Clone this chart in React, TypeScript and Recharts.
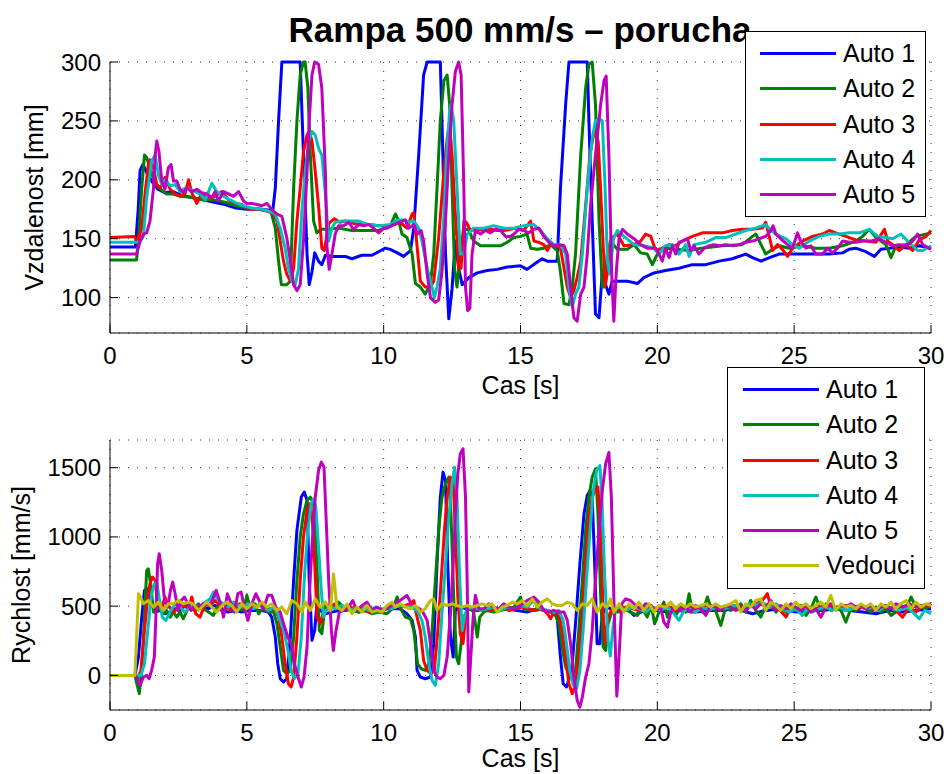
import React from 'react';
import { LineChart, Line, XAxis, YAxis, CartesianGrid, Legend } from 'recharts';

type Pt = [number, number];

const FONT = '"Liberation Sans", Arial, Helvetica, sans-serif';

const chartTitle = 'Rampa 500 mm/s \u2013 porucha';
const timeLabel = 'Cas [s]';
const distLabel = 'Vzdalenost [mm]';
const speedLabel = 'Rychlost [mm/s]';
const timeTicks = [0, 5, 10, 15, 20, 25, 30];
const distTicks = [100, 150, 200, 250, 300];
const speedTicks = [0, 500, 1000, 1500];
const autoNames = ['Auto 1', 'Auto 2', 'Auto 3', 'Auto 4', 'Auto 5'];
const leaderName = 'Vedouci';
const autoColors = ['#0000ff', '#008000', '#ff0000', '#00bfbf', '#bf00bf'];
const leaderColor = '#bfbf00';

// distance to the car ahead [mm], (time [s], value)
const dist1: Pt[] = [
  [0, 143], [0.93, 143], [1.03, 175], [1.1, 208], [1.2, 213], [1.35, 206], [1.55, 198], [1.75, 192], [2.0, 189],
  [2.3, 190], [2.6, 187], [3.0, 185], [3.4, 183], [3.8, 181], [4.2, 179], [4.6, 176], [5.0, 175], [5.5, 175],
  [5.95, 174], [6.04, 193], [6.16, 250], [6.28, 300], [6.95, 300], [7.07, 221], [7.2, 137], [7.28, 111], [7.38, 122],
  [7.48, 138], [7.62, 131], [7.74, 128], [7.87, 136], [8.1, 135], [8.6, 135], [8.84, 133], [9.2, 136], [9.57, 136],
  [9.9, 140], [10.06, 142], [10.24, 141], [10.5, 138], [10.73, 135], [10.98, 140], [11.1, 159], [11.28, 221],
  [11.46, 289], [11.59, 300], [12.07, 300], [12.13, 250], [12.26, 137], [12.38, 82], [12.5, 108], [12.62, 148],
  [12.74, 125], [12.87, 111], [13.11, 117], [13.42, 121], [13.78, 123], [14.15, 124], [14.51, 126], [15.0, 127],
  [15.24, 124], [15.6, 130], [15.79, 133], [15.98, 131], [16.34, 131], [16.46, 193], [16.65, 264], [16.77, 300],
  [17.44, 300], [17.5, 250], [17.62, 165], [17.74, 86], [17.87, 83], [17.99, 122], [18.11, 111], [18.23, 103],
  [18.35, 114], [18.48, 114], [18.9, 114], [19.27, 112], [19.51, 117], [19.88, 121], [20.3, 123], [20.79, 125],
  [21.28, 128], [21.77, 128], [22.26, 131], [22.74, 133], [23.23, 137], [23.48, 134], [23.79, 131], [24.1, 134],
  [24.45, 137], [24.82, 137], [25.3, 137], [25.79, 137], [26.28, 137], [26.77, 138], [27.0, 141], [27.25, 142],
  [27.62, 139], [27.93, 135], [28.17, 141], [28.48, 142], [28.84, 143], [29.21, 142], [29.57, 144], [30, 142],
];
const dist2: Pt[] = [
  [0, 132], [0.97, 132], [1.04, 148], [1.16, 193], [1.26, 221], [1.34, 219], [1.46, 210], [1.6, 200], [1.8, 193],
  [2.07, 188], [2.3, 188], [2.6, 186], [3.0, 185], [3.4, 183], [3.8, 183], [4.2, 181], [4.6, 178], [5.0, 176],
  [5.5, 175], [5.88, 173], [6.04, 159], [6.16, 131], [6.26, 111], [6.46, 111], [6.59, 114], [6.71, 193], [6.83, 250],
  [6.95, 289], [7.07, 300], [7.13, 300], [7.23, 278], [7.32, 221], [7.44, 165], [7.56, 155], [7.7, 158], [8.0, 158],
  [8.35, 159], [8.84, 157], [9.33, 157], [9.82, 157], [10.24, 161], [10.43, 171], [10.55, 165], [10.67, 154],
  [10.85, 151], [11.04, 137], [11.16, 112], [11.34, 109], [11.52, 103], [11.71, 112], [11.83, 137], [11.95, 193],
  [12.07, 250], [12.2, 284], [12.32, 289], [12.41, 264], [12.5, 193], [12.59, 125], [12.68, 109], [12.8, 137],
  [12.93, 159], [13.11, 157], [13.29, 148], [13.54, 144], [13.9, 144], [14.27, 144], [14.51, 147], [14.76, 151],
  [15.0, 152], [15.24, 154], [15.37, 142], [15.61, 141], [15.85, 142], [16.1, 145], [16.34, 140], [16.46, 122],
  [16.59, 95], [16.77, 94], [16.89, 109], [17.01, 137], [17.2, 221], [17.38, 278], [17.5, 298], [17.62, 300],
  [17.74, 264], [17.87, 165], [17.99, 109], [18.07, 109], [18.17, 137], [18.29, 148], [18.54, 141], [18.9, 141],
  [19.15, 145], [19.39, 138], [19.63, 137], [19.82, 128], [20.0, 137], [20.3, 142], [20.7, 141], [21.16, 140],
  [21.6, 142], [22.0, 143], [22.38, 144], [23.1, 145], [23.48, 152], [23.6, 154], [23.79, 145], [23.96, 137],
  [24.21, 141], [24.45, 144], [24.82, 142], [25.3, 144], [25.79, 142], [26.28, 142], [26.77, 144], [27.25, 148],
  [27.5, 152], [27.74, 158], [27.99, 151], [28.35, 145], [28.54, 134], [28.72, 144], [29.09, 145], [29.45, 152],
  [30, 155],
];
const dist3: Pt[] = [
  [0, 151], [0.9, 152], [0.97, 149], [1.05, 151], [1.16, 159], [1.28, 188], [1.4, 213], [1.46, 217], [1.59, 210],
  [1.71, 196], [1.83, 193], [2.01, 202], [2.2, 192], [2.38, 188], [2.56, 186], [2.74, 188], [2.87, 200], [2.99, 189],
  [3.17, 180], [3.35, 188], [3.6, 185], [3.84, 186], [4.09, 190], [4.33, 183], [4.57, 180], [4.82, 179], [5.06, 175],
  [5.43, 175], [5.79, 173], [5.98, 171], [6.1, 165], [6.22, 148], [6.34, 131], [6.46, 120], [6.59, 114], [6.71, 125],
  [6.83, 165], [6.95, 193], [7.07, 224], [7.2, 238], [7.28, 241], [7.38, 233], [7.5, 207], [7.62, 178], [7.74, 142],
  [7.83, 140], [8.0, 163], [8.2, 167], [8.4, 164], [8.6, 165], [8.9, 163], [9.2, 162], [9.5, 162], [9.8, 161],
  [10.24, 161], [10.6, 164], [10.85, 159], [11.04, 171], [11.1, 172], [11.22, 144], [11.34, 114], [11.52, 109],
  [11.71, 109], [11.83, 114], [12.01, 151], [12.2, 207], [12.32, 235], [12.4, 248], [12.5, 221], [12.62, 171],
  [12.74, 125], [12.83, 125], [12.93, 165], [13.02, 164], [13.17, 157], [13.42, 158], [13.66, 157], [13.9, 158],
  [14.15, 157], [14.39, 157], [14.63, 158], [14.88, 159], [15.12, 157], [15.37, 165], [15.49, 148], [15.67, 147],
  [15.85, 145], [15.98, 140], [16.1, 145], [16.28, 144], [16.46, 142], [16.59, 125], [16.71, 109], [16.83, 100],
  [16.95, 106], [17.07, 117], [17.2, 131], [17.38, 178], [17.54, 222], [17.65, 236], [17.75, 241], [17.84, 232],
  [17.93, 190], [18.02, 145], [18.1, 110], [18.2, 125], [18.32, 150], [18.41, 152], [18.54, 154], [18.78, 144],
  [19.15, 145], [19.39, 148], [19.57, 154], [19.76, 152], [19.94, 140], [20.18, 142], [20.43, 145], [20.67, 144],
  [20.91, 148], [21.28, 152], [21.65, 155], [22.01, 155], [22.38, 155], [22.74, 157], [23.1, 158], [23.48, 158],
  [23.84, 159], [23.96, 164], [24.09, 152], [24.21, 140], [24.39, 145], [24.57, 141], [24.76, 135], [24.94, 142],
  [25.3, 148], [25.67, 152], [26.04, 154], [26.28, 157], [26.52, 155], [26.89, 152], [27.25, 149], [27.62, 148],
  [27.99, 147], [28.3, 158], [28.42, 148], [28.6, 145], [28.84, 140], [29.09, 145], [29.33, 140], [29.57, 149],
  [29.82, 152], [30, 157],
];
const dist4: Pt[] = [
  [0, 147], [1.08, 147], [1.22, 152], [1.34, 185], [1.52, 216], [1.65, 221], [1.77, 204], [1.89, 196], [2.01, 200],
  [2.2, 195], [2.38, 196], [2.56, 190], [2.74, 193], [2.93, 192], [3.11, 190], [3.29, 188], [3.48, 183], [3.72, 197],
  [3.9, 190], [4.15, 186], [4.39, 183], [4.63, 180], [4.88, 178], [5.18, 176], [5.55, 175], [5.85, 173], [6.04, 171],
  [6.22, 159], [6.4, 142], [6.52, 125], [6.65, 114], [6.77, 111], [6.89, 125], [7.01, 173], [7.13, 207], [7.26, 233],
  [7.38, 241], [7.5, 238], [7.62, 227], [7.74, 221], [7.87, 188], [7.99, 148], [8.11, 159], [8.23, 164], [8.48, 165],
  [8.84, 165], [9.09, 165], [9.45, 162], [9.82, 161], [10.24, 162], [10.49, 166], [10.73, 166], [10.91, 164],
  [11.1, 165], [11.28, 159], [11.4, 148], [11.59, 125], [11.77, 109], [11.85, 100], [11.95, 109], [12.07, 125],
  [12.2, 170], [12.3, 220], [12.4, 255], [12.46, 264], [12.56, 250], [12.68, 193], [12.8, 137], [12.93, 137],
  [13.05, 154], [13.29, 159], [13.66, 159], [14.02, 161], [14.39, 159], [14.76, 159], [15.12, 161], [15.49, 162],
  [15.73, 157], [15.98, 150], [16.22, 145], [16.46, 145], [16.65, 137], [16.77, 109], [16.89, 92], [17.01, 103],
  [17.13, 109], [17.26, 137], [17.44, 193], [17.62, 235], [17.74, 250], [17.87, 252], [17.99, 250], [18.08, 200],
  [18.18, 130], [18.26, 120], [18.4, 150], [18.54, 157], [18.78, 152], [19.15, 145], [19.51, 144], [19.88, 142],
  [20.06, 137], [20.3, 144], [20.55, 145], [20.79, 137], [21.04, 145], [21.16, 135], [21.34, 145], [21.77, 147],
  [22.13, 151], [22.5, 151], [22.87, 154], [23.23, 157], [23.6, 159], [23.96, 162], [24.15, 157], [24.33, 154],
  [24.7, 150], [24.94, 145], [25.18, 142], [25.55, 148], [25.91, 152], [26.28, 154], [26.65, 154], [27.01, 155],
  [27.38, 155], [27.74, 158], [28.05, 152], [28.35, 151], [28.6, 150], [28.9, 154], [29.15, 148], [29.33, 144],
  [29.51, 140], [29.7, 140], [30, 144],
];
const dist5: Pt[] = [
  [0, 137], [0.97, 137], [1.1, 148], [1.22, 154], [1.34, 155], [1.46, 165], [1.59, 193], [1.65, 221], [1.71, 233],
  [1.79, 224], [1.89, 199], [2.01, 192], [2.13, 210], [2.23, 213], [2.32, 199], [2.44, 199], [2.56, 192], [2.68, 189],
  [2.8, 193], [2.99, 190], [3.17, 192], [3.35, 189], [3.54, 188], [3.72, 185], [3.84, 190], [3.96, 182], [4.15, 190],
  [4.33, 188], [4.51, 186], [4.7, 190], [4.88, 182], [5.0, 180], [5.18, 180], [5.37, 179], [5.55, 178], [5.73, 180],
  [5.91, 175], [6.1, 171], [6.28, 169], [6.46, 151], [6.59, 131], [6.71, 111], [6.83, 106], [6.95, 111], [7.07, 148],
  [7.2, 207], [7.28, 250], [7.38, 289], [7.48, 300], [7.62, 298], [7.74, 278], [7.87, 207], [7.93, 142], [8.01, 124],
  [8.11, 137], [8.23, 154], [8.35, 161], [8.54, 161], [8.72, 164], [8.9, 158], [9.09, 162], [9.27, 161], [9.45, 162],
  [9.63, 159], [9.82, 155], [10.0, 159], [10.12, 159], [10.37, 162], [10.6, 164], [10.79, 166], [10.91, 159],
  [11.1, 162], [11.24, 154], [11.37, 157], [11.46, 148], [11.59, 120], [11.71, 100], [11.89, 96], [12.01, 98],
  [12.13, 122], [12.26, 165], [12.38, 221], [12.5, 264], [12.62, 292], [12.74, 300], [12.83, 289], [12.93, 193],
  [12.99, 109], [13.07, 89], [13.15, 91], [13.23, 137], [13.35, 157], [13.54, 154], [13.72, 157], [13.9, 155],
  [14.09, 158], [14.27, 157], [14.45, 152], [14.63, 152], [14.76, 154], [14.94, 158], [15.12, 157], [15.3, 155],
  [15.49, 158], [15.67, 159], [15.85, 152], [16.04, 147], [16.22, 144], [16.4, 145], [16.59, 144], [16.71, 137],
  [16.83, 109], [16.95, 83], [17.07, 80], [17.2, 103], [17.32, 109], [17.44, 137], [17.56, 178], [17.68, 207],
  [17.8, 235], [17.93, 264], [18.05, 284], [18.13, 288], [18.23, 221], [18.33, 122], [18.41, 80], [18.5, 122],
  [18.6, 150], [18.73, 158], [18.9, 154], [19.15, 150], [19.39, 145], [19.63, 142], [19.94, 142], [20.06, 137],
  [20.18, 131], [20.3, 142], [20.43, 134], [20.55, 144], [20.67, 137], [20.79, 147], [20.91, 148], [21.1, 150],
  [21.22, 140], [21.34, 144], [21.52, 137], [21.71, 142], [21.89, 144], [22.07, 145], [22.26, 144], [22.5, 145],
  [22.74, 144], [22.99, 145], [23.23, 147], [23.48, 148], [23.72, 150], [23.96, 152], [24.15, 157], [24.23, 161],
  [24.33, 154], [24.51, 150], [24.76, 145], [24.94, 142], [25.12, 155], [25.24, 148], [25.43, 142], [25.61, 144],
  [25.79, 137], [26.04, 137], [26.22, 142], [26.4, 138], [26.59, 142], [26.77, 148], [27.01, 147], [27.25, 147],
  [27.5, 148], [27.8, 148], [28.11, 150], [28.35, 147], [28.6, 144], [28.84, 145], [29.09, 144], [29.33, 148],
  [29.51, 154], [29.7, 145], [30, 141],
];

// speed [mm/s], (time [s], value)
const speed1: Pt[] = [
  [0, 0], [0.91, 0], [1.04, 132], [1.16, 421], [1.26, 614], [1.34, 626], [1.46, 541], [1.65, 457], [1.83, 469],
  [2.01, 445], [2.2, 457], [2.38, 481], [2.56, 469], [2.74, 505], [2.93, 481], [3.11, 469], [3.35, 493], [3.6, 481],
  [3.84, 505], [4.09, 469], [4.33, 457], [4.57, 469], [4.82, 457], [5.06, 469], [5.3, 469], [5.55, 469], [5.79, 457],
  [5.91, 421], [6.04, 277], [6.13, 84], [6.22, -24], [6.34, -48], [6.46, -24], [6.59, 277], [6.71, 686], [6.83, 1047],
  [6.99, 1288], [7.1, 1324], [7.2, 1264], [7.28, 686], [7.38, 253], [7.48, 325], [7.56, 517], [7.68, 469], [7.87, 445],
  [8.11, 457], [8.35, 469], [8.6, 469], [8.84, 481], [9.09, 457], [9.33, 469], [9.57, 457], [9.82, 469], [10.06, 481],
  [10.3, 481], [10.6, 481], [10.85, 445], [11.04, 397], [11.16, 277], [11.22, 36], [11.34, -12], [11.52, -24],
  [11.71, -12], [11.83, 229], [11.95, 806], [12.07, 1288], [12.17, 1468], [12.26, 1408], [12.34, 806], [12.44, 277],
  [12.54, 132], [12.62, 469], [12.74, 493], [13.05, 481], [13.42, 469], [13.78, 469], [14.15, 469], [14.51, 481],
  [14.88, 469], [15.24, 457], [15.61, 481], [15.98, 469], [16.22, 457], [16.34, 421], [16.46, 132], [16.56, -60],
  [16.68, -84], [16.8, -12], [16.89, 84], [17.01, 373], [17.17, 806], [17.32, 1167], [17.44, 1300], [17.54, 1336],
  [17.62, 1288], [17.71, 806], [17.8, 229], [17.9, 229], [17.99, 445], [18.17, 493], [18.41, 469], [18.66, 457],
  [18.9, 481], [19.15, 433], [19.39, 457], [19.63, 469], [19.94, 469], [20.43, 457], [20.91, 469], [21.4, 457],
  [21.89, 469], [22.38, 469], [22.87, 481], [23.48, 445], [23.96, 469], [24.57, 481], [25.06, 457], [25.55, 469],
  [26.04, 469], [26.52, 481], [27.01, 469], [27.5, 457], [27.99, 445], [28.48, 469], [28.96, 457], [29.45, 469],
  [30, 481],
];
const speed2: Pt[] = [
  [0, 0], [0.91, 0], [0.98, -60], [1.07, -132], [1.16, 36], [1.26, 421], [1.34, 758], [1.4, 770], [1.5, 638],
  [1.59, 457], [1.71, 469], [1.83, 505], [1.95, 445], [2.07, 469], [2.2, 421], [2.32, 457], [2.44, 421], [2.56, 457],
  [2.68, 409], [2.87, 493], [3.05, 481], [3.23, 517], [3.41, 481], [3.6, 457], [3.78, 433], [3.96, 517], [4.15, 469],
  [4.33, 493], [4.51, 505], [4.7, 481], [4.88, 469], [5.0, 578], [5.12, 493], [5.3, 517], [5.43, 445], [5.61, 493],
  [5.79, 457], [5.98, 457], [6.1, 373], [6.22, 205], [6.34, 36], [6.46, 12], [6.59, 36], [6.71, 277], [6.83, 686],
  [6.95, 999], [7.07, 1167], [7.2, 1264], [7.32, 1288], [7.44, 1239], [7.56, 806], [7.65, 325], [7.74, 301],
  [7.87, 517], [8.11, 493], [8.35, 529], [8.6, 481], [8.84, 469], [9.09, 457], [9.33, 469], [9.57, 445], [9.82, 457],
  [10.12, 445], [10.37, 493], [10.49, 566], [10.6, 493], [10.79, 421], [10.98, 409], [11.1, 325], [11.24, 84],
  [11.37, 48], [11.52, 36], [11.65, 84], [11.77, 325], [11.89, 686], [12.01, 1047], [12.13, 1288], [12.26, 1384],
  [12.38, 1432], [12.46, 1167], [12.56, 566], [12.66, 132], [12.74, 84], [12.83, 229], [12.93, 421], [13.11, 493],
  [13.29, 457], [13.42, 277], [13.51, 421], [13.66, 457], [13.78, 469], [14.02, 457], [14.27, 469], [14.51, 481],
  [14.76, 493], [15.0, 566], [15.12, 481], [15.37, 469], [15.61, 481], [15.85, 469], [16.1, 457], [16.28, 433],
  [16.4, 373], [16.52, 205], [16.65, 60], [16.77, 12], [16.89, -12], [17.01, 36], [17.13, 325], [17.26, 686],
  [17.38, 1047], [17.5, 1288], [17.62, 1432], [17.74, 1492], [17.83, 1167], [17.93, 566], [18.02, 205], [18.11, 180],
  [18.2, 373], [18.35, 469], [18.54, 457], [18.78, 481], [19.02, 457], [19.27, 433], [19.45, 481], [19.63, 421],
  [19.78, 505], [19.9, 373], [20.06, 457], [20.24, 529], [20.37, 421], [20.49, 493], [20.67, 433], [20.85, 493],
  [21.04, 457], [21.16, 590], [21.28, 457], [21.46, 493], [21.65, 457], [21.83, 566], [21.95, 493], [22.13, 469],
  [22.32, 361], [22.5, 493], [22.68, 469], [22.87, 493], [23.05, 517], [23.23, 457], [23.41, 541], [23.6, 469],
  [23.78, 421], [23.96, 505], [24.15, 517], [24.33, 457], [24.51, 493], [24.7, 457], [24.88, 493], [25.06, 469],
  [25.24, 505], [25.43, 433], [25.61, 481], [25.79, 566], [25.98, 469], [26.16, 517], [26.34, 469], [26.52, 493],
  [26.71, 469], [26.89, 385], [27.07, 481], [27.26, 469], [27.44, 493], [27.62, 481], [27.8, 457], [27.99, 493],
  [28.17, 457], [28.35, 481], [28.54, 433], [28.72, 457], [28.9, 505], [29.09, 481], [29.27, 566], [29.45, 493],
  [29.63, 505], [29.82, 481], [30, 517],
];
const speed3: Pt[] = [
  [0, 0], [0.95, 0], [1.04, -12], [1.13, 36], [1.26, 325], [1.38, 566], [1.46, 662], [1.55, 710], [1.65, 686],
  [1.74, 517], [1.87, 469], [2.01, 566], [2.13, 505], [2.32, 457], [2.5, 493], [2.68, 505], [2.87, 481], [2.99, 566],
  [3.13, 445], [3.29, 421], [3.48, 517], [3.66, 505], [3.84, 541], [4.02, 505], [4.21, 517], [4.39, 469], [4.57, 505],
  [4.76, 517], [4.94, 481], [5.12, 505], [5.3, 493], [5.49, 517], [5.67, 469], [5.85, 481], [6.04, 469], [6.16, 421],
  [6.28, 277], [6.4, 84], [6.52, -60], [6.62, -84], [6.71, -12], [6.83, 277], [6.95, 686], [7.07, 999], [7.2, 1191],
  [7.29, 1239], [7.38, 1167], [7.48, 806], [7.57, 421], [7.68, 373], [7.8, 457], [7.99, 493], [8.23, 517], [8.48, 481],
  [8.72, 505], [8.96, 469], [9.21, 481], [9.45, 457], [9.7, 481], [9.94, 469], [10.24, 505], [10.6, 493], [10.98, 517],
  [11.1, 541], [11.22, 421], [11.34, 325], [11.46, 108], [11.59, 36], [11.73, 12], [11.85, 36], [11.98, 325],
  [12.1, 686], [12.22, 1047], [12.32, 1288], [12.44, 1432], [12.54, 1408], [12.62, 1047], [12.71, 566], [12.8, 301],
  [12.9, 229], [12.99, 421], [13.11, 493], [13.35, 481], [13.6, 469], [13.84, 481], [14.09, 469], [14.33, 493],
  [14.57, 469], [14.82, 481], [15.06, 493], [15.3, 481], [15.55, 469], [15.79, 481], [15.98, 445], [16.1, 409],
  [16.22, 457], [16.4, 445], [16.52, 325], [16.65, 132], [16.77, -60], [16.89, -132], [17.01, -60], [17.13, 132],
  [17.26, 445], [17.38, 806], [17.5, 1143], [17.62, 1288], [17.74, 1348], [17.83, 1360], [17.93, 1047], [18.02, 445],
  [18.11, 229], [18.2, 421], [18.35, 481], [18.6, 469], [18.84, 493], [19.09, 481], [19.33, 469], [19.57, 493],
  [19.82, 481], [20.12, 493], [20.3, 505], [20.67, 469], [21.04, 493], [21.4, 481], [21.77, 505], [22.13, 481],
  [22.5, 493], [22.87, 505], [23.23, 493], [23.6, 517], [23.84, 541], [24.02, 590], [24.15, 493], [24.33, 505],
  [24.7, 421], [24.88, 493], [25.06, 469], [25.43, 493], [25.79, 481], [26.16, 505], [26.52, 493], [26.89, 505],
  [27.26, 481], [27.62, 493], [27.99, 469], [28.35, 493], [28.72, 469], [28.96, 421], [29.21, 493], [29.45, 457],
  [29.7, 505], [30, 493],
];
const speed4: Pt[] = [
  [0, 0], [1.0, 0], [1.13, 0], [1.26, 84], [1.38, 325], [1.5, 566], [1.62, 662], [1.71, 674], [1.79, 566], [1.91, 421],
  [2.04, 397], [2.2, 457], [2.38, 517], [2.56, 493], [2.74, 457], [2.93, 493], [3.11, 505], [3.29, 493], [3.48, 529],
  [3.66, 553], [3.78, 602], [3.96, 541], [4.15, 517], [4.33, 493], [4.51, 529], [4.7, 505], [4.88, 493], [5.06, 517],
  [5.24, 481], [5.43, 505], [5.61, 493], [5.79, 469], [5.98, 493], [6.13, 445], [6.26, 373], [6.38, 301], [6.5, 180],
  [6.62, 36], [6.74, -24], [6.87, 12], [6.99, 277], [7.11, 734], [7.23, 1047], [7.35, 1239], [7.44, 1276], [7.52, 1215],
  [7.62, 927], [7.72, 614], [7.8, 421], [7.89, 469], [8.05, 493], [8.23, 481], [8.48, 505], [8.72, 481], [8.96, 469],
  [9.21, 493], [9.45, 469], [9.7, 493], [9.94, 481], [10.24, 481], [10.6, 505], [10.98, 493], [11.22, 469], [11.4, 397],
  [11.52, 277], [11.65, 84], [11.77, -36], [11.89, -72], [12.01, 84], [12.13, 445], [12.26, 806], [12.38, 1143],
  [12.5, 1384], [12.59, 1504], [12.68, 1288], [12.78, 686], [12.87, 325], [12.95, 421], [13.05, 481], [13.29, 493],
  [13.54, 469], [13.78, 481], [14.02, 493], [14.27, 469], [14.51, 493], [14.76, 481], [15.0, 505], [15.24, 493],
  [15.49, 541], [15.73, 481], [15.98, 469], [16.22, 457], [16.4, 469], [16.56, 397], [16.68, 229], [16.8, 36],
  [16.93, -72], [17.05, -96], [17.17, 36], [17.29, 325], [17.41, 686], [17.54, 1047], [17.66, 1336], [17.78, 1480],
  [17.9, 1516], [17.97, 1300], [18.08, 700], [18.2, 250], [18.28, 140], [18.38, 350], [18.48, 480], [18.6, 493],
  [18.84, 469], [19.09, 493], [19.33, 481], [19.57, 457], [19.82, 493], [20.12, 469], [20.37, 493], [20.61, 445],
  [20.79, 397], [20.98, 469], [21.16, 481], [21.4, 457], [21.65, 493], [21.89, 469], [22.13, 493], [22.38, 481],
  [22.62, 493], [22.87, 505], [23.11, 481], [23.35, 517], [23.6, 505], [23.84, 529], [24.09, 493], [24.33, 517],
  [24.57, 481], [24.82, 457], [25.06, 481], [25.3, 433], [25.49, 481], [25.67, 457], [25.91, 481], [26.16, 493],
  [26.4, 469], [26.65, 493], [26.89, 469], [27.13, 481], [27.38, 505], [27.62, 481], [27.87, 493], [28.11, 469],
  [28.35, 505], [28.6, 481], [28.84, 469], [29.09, 493], [29.33, 457], [29.57, 409], [29.76, 469], [30, 445],
];
const speed5: Pt[] = [
  [0, 0], [0.91, 0], [1.01, -24], [1.1, -72], [1.22, -12], [1.34, 0], [1.43, -24], [1.52, 36], [1.62, 132], [1.68, 445],
  [1.74, 806], [1.8, 878], [1.89, 758], [1.99, 541], [2.11, 493], [2.21, 614], [2.29, 674], [2.38, 590], [2.48, 469],
  [2.6, 541], [2.72, 566], [2.84, 517], [2.96, 469], [3.09, 505], [3.23, 493], [3.41, 517], [3.6, 505], [3.74, 541],
  [3.88, 614], [4.02, 529], [4.15, 421], [4.29, 590], [4.43, 517], [4.55, 457], [4.67, 590], [4.79, 602], [4.91, 493],
  [5.04, 397], [5.18, 517], [5.33, 590], [5.45, 541], [5.61, 481], [5.77, 578], [5.91, 578], [6.06, 493], [6.22, 457],
  [6.38, 349], [6.5, 277], [6.62, 229], [6.74, 84], [6.87, -12], [6.99, -84], [7.09, -12], [7.2, 205], [7.28, 566],
  [7.38, 927], [7.5, 1288], [7.62, 1480], [7.72, 1540], [7.82, 1504], [7.89, 1167], [7.99, 686], [8.09, 325],
  [8.16, 180], [8.26, 325], [8.38, 457], [8.54, 469], [8.72, 493], [8.87, 541], [9.02, 469], [9.21, 505], [9.39, 529],
  [9.57, 469], [9.76, 493], [9.94, 469], [10.12, 481], [10.37, 517], [10.6, 541], [10.85, 578], [11.04, 505],
  [11.22, 493], [11.4, 469], [11.59, 397], [11.71, 229], [11.83, 36], [11.95, -12], [12.07, -24], [12.2, 0],
  [12.32, 132], [12.44, 445], [12.54, 806], [12.62, 1167], [12.71, 1456], [12.8, 1600], [12.9, 1637], [12.99, 1288],
  [13.05, 686], [13.11, -120], [13.17, 84], [13.27, 421], [13.35, 578], [13.48, 481], [13.66, 481], [13.84, 517],
  [14.02, 493], [14.21, 481], [14.39, 517], [14.57, 493], [14.76, 481], [15.0, 505], [15.24, 541], [15.49, 566],
  [15.67, 529], [15.85, 469], [16.04, 457], [16.22, 469], [16.4, 457], [16.59, 457], [16.71, 397], [16.83, 229],
  [16.95, -12], [17.07, -180], [17.17, -229], [17.26, -156], [17.38, -12], [17.5, 84], [17.62, 325], [17.74, 686],
  [17.87, 1047], [17.99, 1336], [18.11, 1528], [18.23, 1610], [18.32, 1288], [18.41, 566], [18.52, -150],
  [18.62, 205], [18.7, 517], [18.84, 553], [19.02, 541], [19.21, 505], [19.39, 481], [19.57, 517], [19.76, 505],
  [19.94, 469], [20.12, 493], [20.24, 385], [20.37, 349], [20.49, 457], [20.67, 493], [20.85, 469], [21.04, 493],
  [21.22, 457], [21.4, 505], [21.59, 481], [21.77, 433], [21.95, 505], [22.13, 493], [22.32, 469], [22.5, 505],
  [22.68, 493], [22.87, 469], [23.05, 493], [23.23, 469], [23.41, 505], [23.6, 481], [23.78, 517], [23.96, 493],
  [24.15, 541], [24.33, 469], [24.51, 505], [24.7, 481], [24.88, 517], [25.06, 493], [25.24, 469], [25.43, 505],
  [25.61, 457], [25.79, 481], [25.98, 421], [26.16, 493], [26.34, 517], [26.52, 481], [26.71, 505], [26.89, 493],
  [27.07, 517], [27.26, 493], [27.44, 505], [27.62, 481], [27.8, 505], [27.99, 469], [28.17, 493], [28.35, 505],
  [28.54, 481], [28.72, 517], [28.96, 493], [29.21, 517], [29.45, 493], [29.7, 505], [30, 517],
];
const leaderSpeed: Pt[] = [
  [0, 0], [0.91, 0], [1.04, 590], [1.12, 566], [1.22, 517], [1.4, 541], [1.59, 493], [1.77, 529], [1.95, 469],
  [2.13, 517], [2.32, 517], [2.5, 541], [2.68, 517], [2.87, 529], [3.05, 517], [3.23, 469], [3.41, 505], [3.54, 529],
  [3.72, 493], [3.9, 457], [4.09, 505], [4.27, 529], [4.45, 505], [4.63, 457], [4.82, 517], [5.0, 481], [5.18, 517],
  [5.37, 493], [5.55, 529], [5.73, 493], [5.91, 517], [6.1, 469], [6.28, 493], [6.46, 445], [6.65, 541], [6.83, 517],
  [7.01, 457], [7.13, 529], [7.32, 469], [7.5, 553], [7.68, 493], [7.87, 529], [8.05, 469], [8.17, 734], [8.29, 493],
  [8.48, 469], [8.66, 517], [8.84, 445], [9.02, 493], [9.21, 457], [9.39, 505], [9.57, 457], [9.76, 469], [9.94, 457],
  [10.12, 505], [10.3, 529], [10.43, 493], [10.6, 517], [10.79, 493], [10.98, 481], [11.16, 505], [11.34, 457],
  [11.52, 481], [11.71, 541], [11.83, 553], [11.95, 469], [12.13, 517], [12.32, 505], [12.5, 517], [12.68, 505],
  [12.87, 493], [13.05, 505], [13.23, 493], [13.42, 505], [13.6, 517], [13.78, 505], [13.96, 517], [14.15, 457],
  [14.33, 493], [14.51, 505], [14.7, 529], [14.88, 517], [15.06, 541], [15.24, 505], [15.43, 553], [15.61, 493],
  [15.79, 529], [15.98, 553], [16.16, 517], [16.34, 505], [16.52, 505], [16.71, 529], [16.89, 517], [17.07, 469],
  [17.26, 517], [17.44, 505], [17.62, 553], [17.8, 457], [17.99, 517], [18.17, 493], [18.29, 553], [18.41, 457],
  [18.6, 517], [18.78, 457], [18.96, 517], [19.15, 481], [19.33, 529], [19.51, 469], [19.7, 517], [19.88, 457],
  [20.06, 505], [20.3, 493], [20.49, 529], [20.67, 481], [20.85, 517], [21.04, 493], [21.22, 517], [21.4, 493],
  [21.59, 505], [21.77, 517], [21.95, 493], [22.13, 517], [22.32, 493], [22.5, 505], [22.68, 517], [22.87, 541],
  [23.05, 457], [23.23, 517], [23.41, 493], [23.6, 541], [23.78, 553], [23.96, 469], [24.15, 529], [24.33, 505],
  [24.51, 469], [24.7, 517], [24.88, 481], [25.06, 529], [25.24, 493], [25.43, 517], [25.61, 481], [25.79, 505],
  [25.98, 529], [26.16, 493], [26.34, 578], [26.52, 469], [26.71, 517], [26.89, 493], [27.07, 505], [27.26, 481],
  [27.44, 517], [27.62, 493], [27.8, 517], [27.99, 469], [28.17, 517], [28.35, 493], [28.54, 529], [28.72, 481],
  [28.9, 517], [29.09, 541], [29.27, 481], [29.45, 529], [29.63, 493], [29.82, 517], [30, 505],
];

const toRows = (pts: Pt[]) => pts.map(([t, v]) => ({ t, v }));

const distSeries = [dist1, dist2, dist3, dist4, dist5].map((pts, i) => ({
  name: autoNames[i], color: autoColors[i], data: toRows(pts),
}));
const speedSeries = [
  ...[speed1, speed2, speed3, speed4, speed5].map((pts, i) => ({
    name: autoNames[i], color: autoColors[i], data: toRows(pts),
  })),
  { name: leaderName, color: leaderColor, data: toRows(leaderSpeed) },
];

const tickStyle = { fill: '#000', fontSize: 24, fontFamily: FONT };

const BoxLegend = ({ items, width, sampleLeft, textLeft }: any) => (
  <div style={{
    width, background: '#fff', border: '1px solid #000', boxSizing: 'border-box',
    padding: '4px 0', fontFamily: FONT, fontSize: 25, color: '#000',
  }}>
    {items.map((it: any) => (
      <div key={it.name} style={{ position: 'relative', height: 35.3 }}>
        <div style={{ position: 'absolute', left: sampleLeft, top: 16, width: 76, height: 3, background: it.color }} />
        <span style={{ position: 'absolute', left: textLeft, top: 0, lineHeight: '35.3px', whiteSpace: 'nowrap' }}>
          {it.name}
        </span>
      </div>
    ))}
  </div>
);

const xTitle = (dy: number) => (props: any) => {
  const vb = props.viewBox;
  return (
    <text x={vb.x + vb.width / 2} y={vb.y + dy} textAnchor="middle" fontSize={25} fontFamily={FONT} fill="#000">
      {timeLabel}
    </text>
  );
};

const yTitle = (text: string, baseX: number) => (props: any) => {
  const vb = props.viewBox;
  const cy = vb.y + vb.height / 2;
  return (
    <text x={baseX} y={cy} transform={`rotate(-90 ${baseX} ${cy})`} textAnchor="middle" fontSize={25}
      fontFamily={FONT} fill="#000">
      {text}
    </text>
  );
};

const Panel = ({ series, height, margin, domain, yTicks, yLabel, yLabelX, xLabelDy, legend }: any) => (
  <LineChart width={947} height={height} margin={margin}>
    <CartesianGrid stroke="#333" strokeDasharray="1 8" />
    <XAxis dataKey="t" type="number" domain={[0, 30]} ticks={timeTicks} interval={0} height={40}
      tickSize={-8} tickMargin={22} tick={tickStyle} stroke="#000" label={xTitle(xLabelDy)} />
    <XAxis xAxisId="top" orientation="top" dataKey="t" type="number" domain={[0, 30]} ticks={timeTicks}
      interval={0} height={0} tickSize={-8} tickFormatter={() => ''} stroke="#000" />
    <YAxis type="number" domain={domain} ticks={yTicks} interval={0} width={110} tickSize={-8} tickMargin={17}
      tick={tickStyle} stroke="#000" label={yTitle(yLabel, yLabelX)} />
    <YAxis yAxisId="right" orientation="right" type="number" domain={domain} ticks={yTicks} interval={0} width={0}
      tickSize={-8} tickFormatter={() => ''} stroke="#000" />
    {series.map((s: any) => (
      <Line key={s.name} data={s.data} dataKey="v" name={s.name} type="linear" stroke={s.color} strokeWidth={3}
        strokeLinejoin="round" dot={false} activeDot={false} isAnimationActive={false} />
    ))}
    <Legend layout="horizontal" align="center" verticalAlign="middle"
      wrapperStyle={{ left: legend.left, top: legend.top, width: legend.width }}
      content={() => (
        <BoxLegend items={series} width={legend.width} sampleLeft={legend.sampleLeft} textLeft={legend.textLeft} />
      )} />
  </LineChart>
);

export default function App() {
  return (
    <div style={{ position: 'absolute', left: 0, top: 0, width: 947, height: 774, background: '#fff', overflow: 'hidden' }}>
      <svg width={947} height={60} style={{ position: 'absolute', left: 0, top: 0 }}>
        <text x={520} y={42} textAnchor="middle" fontSize={35} fontWeight="bold" fontFamily={FONT} fill="#000">
          {chartTitle}
        </text>
      </svg>
      <div style={{ position: 'absolute', left: 0, top: 0 }}>
        <Panel series={distSeries} height={410} margin={{ top: 62, right: 16, bottom: 37, left: 0 }}
          domain={[70, 300]} yTicks={distTicks} yLabel={distLabel} yLabelX={43} xLabelDy={61}
          legend={{ left: 745, top: 31, width: 181, sampleLeft: 14, textLeft: 97 }} />
      </div>
      <div style={{ position: 'absolute', left: 0, top: 360 }}>
        <Panel series={speedSeries} height={414} margin={{ top: 80, right: 16, bottom: 24, left: 0 }}
          domain={[-250, 1700]} yTicks={speedTicks} yLabel={speedLabel} yLabelX={30} xLabelDy={57}
          legend={{ left: 727, top: 7, width: 198, sampleLeft: 15, textLeft: 98 }} />
      </div>
    </div>
  );
}
